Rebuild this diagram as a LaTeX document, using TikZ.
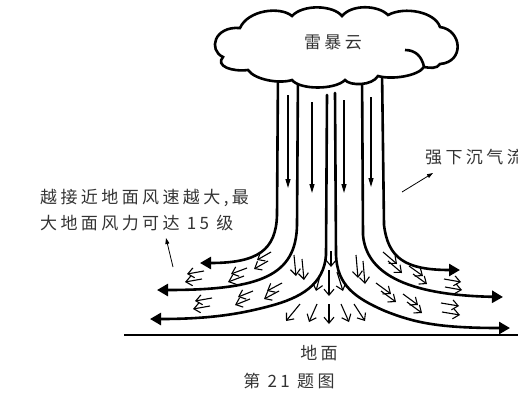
\documentclass[tikz,border=0pt]{standalone}
\usepackage{fontspec}
\newfontfamily\cjk[LetterSpace=20]{Noto Sans CJK SC}
\usetikzlibrary{arrows.meta}

\begin{document}
\begin{tikzpicture}[x=1pt, y=-1pt,
    stream/.style={line width=2.6pt, line cap=round},
    bigarrow/.style={stream, -{Triangle[length=11pt,width=12pt]}},
    downarrow/.style={line width=1.2pt, -{Triangle[length=9pt,width=5pt]}},
    flow/.style={line width=1.1pt, -{Straight Barb[length=6pt,width=10pt]}},
    pointer/.style={line width=0.8pt, -{Triangle[length=6pt,width=4pt]}},
    label/.style={font=\cjk\fontsize{17}{26}\selectfont, text=black!80, inner sep=0pt}]
    \useasboundingbox (0,0) rectangle (518,394);
    \clip (0,0) rectangle (518,394);

    % Sinking air columns, turning out along the ground
    \draw[bigarrow] (278,70) -- (277,215) .. controls (276,250) and (258,263) .. (200,263);
    \draw[bigarrow] (298,70) -- (297,225) .. controls (296,275) and (262,290) .. (157,290);
    \draw[bigarrow] (327,95) -- (326,255) .. controls (324,285) and (300,298) .. (270,306)
        .. controls (240,314) and (210,319) .. (150,319);
    \draw[bigarrow] (335,93) -- (336,255) .. controls (337,285) and (355,298) .. (385,311)
        .. controls (415,323) and (440,328) .. (510,328);
    \draw[bigarrow] (362,70) -- (363,235) .. controls (366,270) and (400,295) .. (503,297);
    \draw[bigarrow] (382,70) -- (384,225) .. controls (388,258) and (405,270) .. (460,270);

    % Down arrows inside the columns
    \foreach \x/\ya/\yb in {288/95/188, 312/102/193, 344/100/193, 371/97/187}
        \draw[downarrow] (\x,\ya) -- (\x,\yb);

    % Small twin arrows of the outflow
    \foreach \ax/\ay/\bx/\by/\ox/\oy in {
        271/252/257/260/-3/9, 247/268/231/274/-3/8, 204/271/187/274/-2/8,
        282/283/267/291/-3/8, 253/291/238/297/-3/8, 212/298/195/301/-2/8,
        294/255/296/276/8/4, 356/255/358/278/7/6,
        383/252/397/264/5/9, 409/266/423/276/4/8, 444/279/461/282/1/8,
        376/283/391/294/5/8, 403/294/418/305/4/8, 441/303/459/306/1/9}
    {
        \draw[flow] (\ax,\ay) -- (\bx,\by);
        \draw[flow] (\ax+\ox,\ay+\oy) -- (\bx+\ox,\by+\oy);
    }
    \foreach \ax/\ay/\bx/\by in {
        331/251/331/267, 321/272/316/291, 329/270/329/296, 337/272/343/291,
        300/304/286/321, 317/304/309/322, 329/304/329/324, 341/304/349/322, 354/304/365/321}
        \draw[flow] (\ax,\ay) -- (\bx,\by);

    % Thunder cloud
    \draw[line width=2.6pt, fill=white] (223,57) .. controls (208,50) and (214,26) .. (240,28)
        .. controls (248,10) and (280,6) .. (292,16)
        .. controls (303,4) and (333,5) .. (342,16)
        .. controls (352,4) and (378,5) .. (388,15)
        .. controls (405,6) and (435,12) .. (440,27)
        .. controls (462,30) and (465,62) .. (440,64)
        .. controls (437,69) and (430,68) .. (424,67)
        .. controls (418,76) and (392,80) .. (378,76)
        .. controls (372,86) and (350,86) .. (345,80)
        .. controls (335,90) and (300,90) .. (292,80)
        .. controls (280,84) and (255,80) .. (248,70)
        .. controls (232,72) and (215,66) .. (223,57) -- cycle;
    \draw[line width=2.6pt] (405,50) .. controls (416,50) and (422,57) .. (424,67);

    % Ground
    \coordinate (groundL) at (124,335);
    \coordinate (groundR) at (518,335);
    \draw[line width=2.6pt] (groundL) -- (groundR);

    % Labels
    \node[label] (cloudtext) at (333,42) {雷暴云};
    \node[label, anchor=west, align=left] (windtext) at (40,210) {越接近地面风速越大,最\\大地面风力可达 15 级};
    \node[label, anchor=west] (sinktext) at (425,157) {强下沉气流};
    \node[label] (groundtext) at (319,353) {地面};
    \node[label] (caption) at (289,381) {第 21 题图};

    % Pointers to the labels
    \coordinate (windfoot) at (173,267);
    \coordinate (windtip) at (166,238);
    \draw[pointer] (windfoot) -- (windtip);
    \coordinate (sinkfoot) at (402,192);
    \coordinate (sinktip) at (433,173);
    \draw[pointer] (sinkfoot) -- (sinktip);
\end{tikzpicture}
\end{document}
